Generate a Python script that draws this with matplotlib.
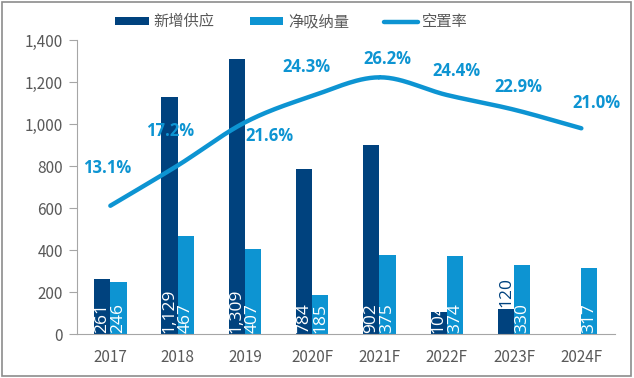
import numpy as np
import matplotlib.pyplot as plt
from matplotlib.patches import Rectangle
from matplotlib.ticker import FuncFormatter

plt.rcParams['font.family'] = ['Noto Sans CJK SC', 'DejaVu Sans']

years = ["2017", "2018", "2019", "2020F", "2021F", "2022F", "2023F", "2024F"]
supply = [261, 1129, 1309, 784, 902, 104, 120, 0]
absorption = [246, 467, 407, 185, 375, 374, 330, 317]
vacancy = [13.1, 17.2, 21.6, 24.3, 26.2, 24.4, 22.9, 21.0]

dark = "#00427e"
light = "#0d94d2"
grey = "#595959"

# label offsets for the vacancy labels, in pixels (excel put them by hand)
lab_off = [(-3, 38), (-8, 35), (25, -14), (-6, 29), (8, 18), (10, 24), (4, 23), (15, 25)]


def smooth(xs, ys, n=30):
    # catmull-rom through the points, like excel's smoothed line
    xs = np.asarray(xs, float)
    ys = np.asarray(ys, float)
    px = np.concatenate([[2 * xs[0] - xs[1]], xs, [2 * xs[-1] - xs[-2]]])
    py = np.concatenate([[2 * ys[0] - ys[1]], ys, [2 * ys[-1] - ys[-2]]])
    ox, oy = [], []
    t = np.linspace(0, 1, n)
    for i in range(1, len(px) - 2):
        for p, o in ((px, ox), (py, oy)):
            p0, p1, p2, p3 = p[i - 1], p[i], p[i + 1], p[i + 2]
            o.extend(0.5 * (2 * p1 + (-p0 + p2) * t + (2 * p0 - 5 * p1 + 4 * p2 - p3) * t ** 2
                            + (-p0 + 3 * p1 - 3 * p2 + p3) * t ** 3))
    return np.array(ox), np.array(oy)


fig = plt.figure(figsize=(6.34, 3.78), dpi=100)
ax = fig.add_axes([0.121, 0.116, 0.849, 0.778])
x = np.arange(len(years))
w = 0.24

b1 = ax.bar(x - w / 2, supply, w, color=dark, label="新增供应", zorder=2)
b2 = ax.bar(x + w / 2, absorption, w, color=light, label="净吸纳量", zorder=2)

numfont = dict(family="Open Sans", fontsize=12.5)
for i in range(len(years)):
    if supply[i] > 0:
        if years[i] == "2023F":
            ax.text(x[i] - w / 2, supply[i] + 8, f"{supply[i]:,}", rotation=90, ha="center",
                    va="bottom", color=dark, zorder=3, **numfont)
        else:
            ax.text(x[i] - w / 2, 6, f"{supply[i]:,}", rotation=90, ha="center",
                    va="bottom", color="white", zorder=3, **numfont)
    ax.text(x[i] + w / 2, 6, f"{absorption[i]:,}", rotation=90, ha="center",
            va="bottom", color="white", zorder=3, **numfont)

ax.set_xlim(-0.5, 7.5)
ax.set_ylim(0, 1400)
ax.set_yticks(range(0, 1401, 200))
ax.yaxis.set_major_formatter(FuncFormatter(lambda v, p: f"{int(v):,}"))
ax.set_xticks(x)
ax.set_xticklabels(years)
ax.tick_params(axis="x", length=0, pad=11, labelsize=11, labelcolor=grey)
ax.tick_params(axis="y", length=6, direction="out", labelsize=11, labelcolor=grey,
               color="#a6a6a6", pad=4)
for s in ["top", "right"]:
    ax.spines[s].set_visible(False)
ax.spines["left"].set_color("#a6a6a6")
ax.spines["bottom"].set_color("#a6a6a6")

ax2 = ax.twinx()
ax2.set_ylim(0, 30)
ax2.axis("off")
sx, sy = smooth(x, vacancy)
ln, = ax2.plot(sx, sy, color=light, lw=3.2, solid_capstyle="round", label="空置率", zorder=4)
for i, v in enumerate(vacancy):
    ax2.annotate(f"{v:.1f}%", (x[i], v), xytext=lab_off[i], textcoords="offset pixels",
                 ha="center", va="center", color=light, fontsize=12, fontweight="bold",
                 family="Open Sans")

fig.legend(handles=[b1, b2, ln], loc="center", bbox_to_anchor=(0.46, 0.942), ncol=3,
           frameon=False, fontsize=11, handlelength=2.2, handleheight=0.5,
           columnspacing=2.3, handletextpad=0.3, labelcolor=grey)

fig.patches.append(Rectangle((0.003, 0.004), 0.993, 0.992, transform=fig.transFigure,
                             fill=False, edgecolor="#8c8c8c", lw=1.2))

fig.savefig("out.png", dpi=100)
